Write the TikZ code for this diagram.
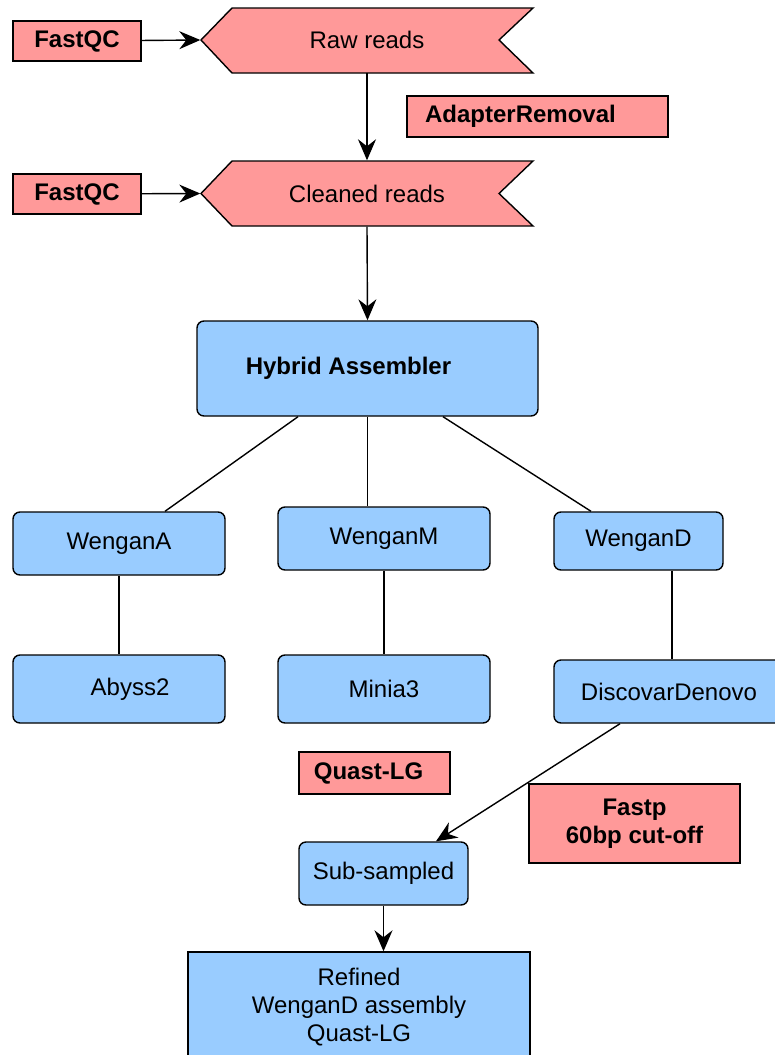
\documentclass[tikz,border=0pt]{standalone}
\usepackage{fontspec}
\setmainfont{Liberation Sans}
\usetikzlibrary{arrows.meta}

\definecolor{toolred}{HTML}{FF9999}
\definecolor{stageblue}{HTML}{99CCFF}
\newcommand{\diagfont}{\fontsize{24}{28}\selectfont}

\begin{document}
\begin{tikzpicture}[x=1pt, y=-1pt, line width=1.4pt,
tool/.style = {draw, fill=toolred, font=\diagfont\bfseries, inner sep=0pt},
stage/.style = {draw, fill=stageblue, rounded corners=7pt, inner sep=0pt, font=\diagfont},
reads/.style = {inner sep=0pt, minimum width=332pt, minimum height=65pt, font=\diagfont},
link/.style = {-{Stealth[length=21pt, width=18pt, inset=7pt]}},
]
\clip (0,0) rectangle (775,1055);

% Draw read sets
\draw[fill=toolred] (201,40) -- (232,8) -- (533,8) -- (499,40) -- (533,73) -- (232,73) -- cycle;
\node[reads] (raw) at (367,40) {Raw reads};
\draw[fill=toolred] (201,193.5) -- (232,161) -- (533,161) -- (499,193.5) -- (533,226) -- (232,226) -- cycle;
\node[reads] (clean) at (367,193.5) {Cleaned reads};

% Draw tools
\node[tool, minimum width=128pt, minimum height=40pt] (qc1) at (77,41) {FastQC};
\node[tool, minimum width=128pt, minimum height=40pt] (qc2) at (77,194) {FastQC};
\node[tool, minimum width=261pt, minimum height=41pt] (adapt) at (537.5,116.5) {\hspace*{-34pt}AdapterRemoval};
\node[tool, minimum width=151pt, minimum height=42pt] (quast) at (374.5,773) {\hspace*{-12pt}Quast-LG};
\node[tool, minimum width=211pt, minimum height=79pt, align=center] (fastp) at (634.5,823.5) {Fastp\\60bp cut-off};

% Draw assemblers
\node[stage, minimum width=341pt, minimum height=95pt, font=\diagfont\bfseries] (hyb) at (367.5,368.5) {\hspace*{-38pt}Hybrid Assembler};
\node[stage, minimum width=212pt, minimum height=63pt] (wa) at (119,543.5) {WenganA};
\node[stage, minimum width=212pt, minimum height=63pt] (wm) at (384,538.5) {WenganM};
\node[stage, minimum width=169pt, minimum height=58pt] (wd) at (638.5,541) {WenganD};
\node[stage, minimum width=212pt, minimum height=68pt] (abyss) at (119,689) {\hspace{22pt}Abyss2};
\node[stage, minimum width=212pt, minimum height=68pt] (minia) at (384,689) {Minia3};
\node[stage, minimum width=230pt, minimum height=63pt] (disco) at (669,691.5) {DiscovarDenovo};
\node[stage, minimum width=169pt, minimum height=63pt] (sub) at (383.5,873.5) {Sub-sampled};
\node[stage, rounded corners=0pt, minimum width=342pt, minimum height=110pt, align=center] (refined) at (359,1007) {Refined\\WenganD assembly\\Quast-LG};

% Draw edges
\draw[link] (qc1) -- (raw.west);
\draw[link] (qc2) -- (clean.west);
\draw[link] (raw.south) -- (clean.north);
\draw[link] (clean.south) -- (hyb.north);
\draw ([xshift=-69.5pt]hyb.south) -- ([xshift=46pt]wa.north);
\draw (hyb.south) -- (hyb.south |- wm.north);
\draw ([xshift=75.5pt]hyb.south) -- ([xshift=-47.5pt]wd.north);
\draw (wa) -- (abyss);
\draw (wm) -- (minia);
\draw ([xshift=33.5pt]wd.south) -- ([xshift=3pt]disco.north);
\draw[link] ([xshift=-49pt]disco.south) -- ([xshift=52.5pt]sub.north);
\draw[link] (sub) -- (sub.south |- refined.north);

\end{tikzpicture}
\end{document}
